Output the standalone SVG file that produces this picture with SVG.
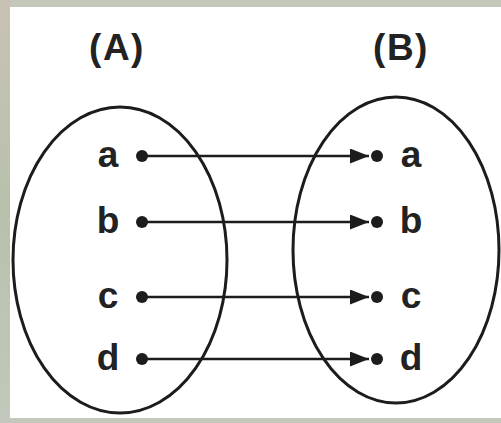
<svg xmlns="http://www.w3.org/2000/svg" width="501" height="423" viewBox="0 0 501 423">
  <defs>
    <marker id="arrow" markerUnits="userSpaceOnUse" markerWidth="19" markerHeight="15" refX="19" refY="7.5" orient="auto">
      <path d="M0,0 L19,7.5 L0,15 Z" fill="#1c1c1c"/>
    </marker>
    <linearGradient id="leftStrip" x1="0" y1="0" x2="0" y2="1">
      <stop offset="0" stop-color="#c9c2b4"/>
      <stop offset="0.5" stop-color="#b7c1ac"/>
      <stop offset="1" stop-color="#c2c8bb"/>
    </linearGradient>
  </defs>
  <style>
    .set { fill: none; stroke: #1c1c1c; stroke-width: 3; }
    .title { font-family: "Liberation Sans", Arial, sans-serif; font-weight: bold; font-size: 37px; fill: #222; text-anchor: middle; letter-spacing: 1.5px; }
    .lbl { font-family: "Liberation Sans", Arial, sans-serif; font-weight: bold; font-size: 37px; fill: #222; text-anchor: middle; }
    .dot { fill: #1c1c1c; }
    .conn { stroke: #1c1c1c; stroke-width: 2.6; fill: none; marker-end: url(#arrow); }
  </style>
  <rect x="0" y="0" width="501" height="423" fill="#c3c9ba"/>
  <rect x="0" y="0" width="11" height="423" fill="url(#leftStrip)"/>
  <rect x="10" y="7" width="491" height="411" fill="#ffffff"/>

  <g id="setA">
    <ellipse class="set" cx="120" cy="260" rx="107" ry="153"/>
    <text class="title" x="117" y="60">(A)</text>
  </g>
  <g id="setB">
    <ellipse class="set" cx="396" cy="250" rx="103" ry="153"/>
    <text class="title" x="401" y="60">(B)</text>
  </g>

  <g id="A-a"><circle class="dot" cx="142" cy="156" r="6"/><text class="lbl" x="108" y="167">a</text></g>
  <g id="A-b"><circle class="dot" cx="142" cy="222" r="6"/><text class="lbl" x="108" y="233">b</text></g>
  <g id="A-c"><circle class="dot" cx="142" cy="297" r="6"/><text class="lbl" x="108" y="308">c</text></g>
  <g id="A-d"><circle class="dot" cx="142" cy="359" r="6"/><text class="lbl" x="108" y="370">d</text></g>

  <g id="B-a"><circle class="dot" cx="377" cy="156" r="6"/><text class="lbl" x="411" y="167">a</text></g>
  <g id="B-b"><circle class="dot" cx="377" cy="222" r="6"/><text class="lbl" x="411" y="233">b</text></g>
  <g id="B-c"><circle class="dot" cx="377" cy="297" r="6"/><text class="lbl" x="411" y="308">c</text></g>
  <g id="B-d"><circle class="dot" cx="377" cy="359" r="6"/><text class="lbl" x="411" y="370">d</text></g>

  <g id="connectors">
    <line class="conn" x1="142" y1="156" x2="369" y2="156"/>
    <line class="conn" x1="142" y1="222" x2="369" y2="222"/>
    <line class="conn" x1="142" y1="297" x2="369" y2="297"/>
    <line class="conn" x1="142" y1="359" x2="369" y2="359"/>
  </g>
</svg>
